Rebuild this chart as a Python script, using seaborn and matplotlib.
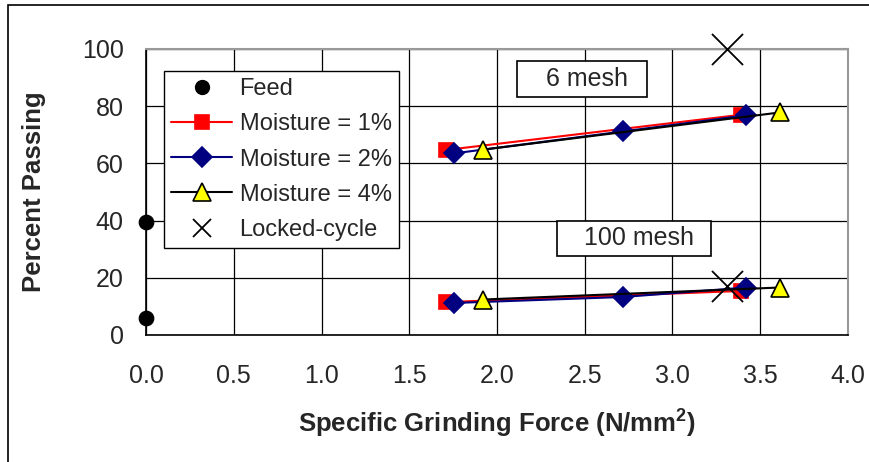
import matplotlib
matplotlib.use("Agg")
import matplotlib.pyplot as plt
import seaborn as sns
import pandas as pd
from matplotlib.lines import Line2D
from matplotlib.patches import Rectangle

sns.set_theme(style="white")
plt.rcParams['font.family'] = ['Liberation Sans', 'DejaVu Sans']
plt.rcParams['mathtext.fontset'] = 'custom'
plt.rcParams['mathtext.rm'] = 'Liberation Sans'
plt.rcParams['mathtext.bf'] = 'Liberation Sans:bold'

# Data
feed_x = [0.0, 0.0]
feed_y = [39.5, 6.0]

force_m1 = [1.71, 3.39]
m1_6mesh = [64.7, 77.0]
m1_100mesh = [11.5, 15.4]

force_m2 = [1.755, 2.72, 3.42]
m2_6mesh = [63.5, 71.2, 76.8]
m2_100mesh = [11.2, 13.3, 16.6]

force_m4 = [1.92, 3.61]
m4_6mesh = [64.8, 77.8]
m4_100mesh = [12.4, 16.6]

locked_x = [3.31, 3.31]
locked_y = [100.0, 17.1]

x_ticks = [0.0, 0.5, 1.0, 1.5, 2.0, 2.5, 3.0, 3.5, 4.0]
y_ticks = [0, 20, 40, 60, 80, 100]

fig = plt.figure(figsize=(8.7, 4.62), dpi=100)
ax = fig.add_axes([146/870, 127/462, 702/870, 286/462])

# figure border
fig.patches.append(Rectangle((8/870, -0.1), 1.2, (457+46)/462, transform=fig.transFigure,
                             fill=False, edgecolor='black', linewidth=1.2))

ax.grid(True, color='black', linewidth=0.9)
ax.set_axisbelow(True)

series = [
    (force_m1, m1_6mesh, m1_100mesh, 'red', 's', 'red', 'red', 9.5, 'Moisture = 1%'),
    (force_m2, m2_6mesh, m2_100mesh, '#000080', 'D', '#000080', '#000080', 10, 'Moisture = 2%'),
    (force_m4, m4_6mesh, m4_100mesh, 'black', '^', 'yellow', 'black', 13, 'Moisture = 4%'),
]
handles = []
h = Line2D([], [], linestyle='none', marker='o', color='black', markersize=10)
handles.append((h, 'Feed'))
for i, (fx, y6, y100, lc, mk, mfc, mec, ms, lab) in enumerate(series):
    for yy in (y6, y100):
        df = pd.DataFrame({'x': fx, 'y': yy})
        sns.lineplot(data=df, x='x', y='y', ax=ax, color=lc, linewidth=1.5,
                     marker=mk, markersize=ms, markerfacecolor=mfc,
                     markeredgecolor=mec, markeredgewidth=1.2, sort=False,
                     zorder=3 + i, clip_on=False)
    handles.append((Line2D([], [], color=lc, linewidth=1.5, marker=mk, markersize=ms,
                           markerfacecolor=mfc, markeredgecolor=mec,
                           markeredgewidth=1.2), lab))

sns.scatterplot(x=feed_x, y=feed_y, ax=ax, color='black', marker='o', s=110,
                edgecolor='black', zorder=8, clip_on=False)
sns.scatterplot(x=locked_x, y=locked_y, ax=ax, color='black', marker='x', s=500,
                linewidth=1.3, zorder=8, clip_on=False)
handles.append((Line2D([], [], linestyle='none', marker='x', color='black',
                       markersize=13, markeredgewidth=1.3), 'Locked-cycle'))

ax.set_xlim(0, 4.0)
ax.set_ylim(0, 100)
ax.set_xticks(x_ticks)
ax.set_xticklabels([f'{t:.1f}' for t in x_ticks])
ax.set_yticks(y_ticks)
ax.tick_params(axis='both', labelsize=18, direction='out', length=8, width=1,
               color='black', pad=8)
ax.tick_params(axis='x', pad=13)

for s in ['left', 'bottom']:
    ax.spines[s].set_color('black')
    ax.spines[s].set_linewidth(1.2)
for s in ['top', 'right']:
    ax.spines[s].set_color('#999999')
    ax.spines[s].set_linewidth(1.5)

ax.set_xlabel('Specific Grinding Force (N/mm$^\\mathbf{2}$)', fontsize=18.5,
              fontweight='bold', labelpad=13)
ax.set_ylabel('Percent Passing', fontsize=18.5, fontweight='bold', labelpad=26)

leg = ax.legend([h for h, _ in handles], [l for _, l in handles], loc='upper left',
                bbox_to_anchor=(18/702, 264/286), fontsize=17, frameon=True,
                fancybox=False, edgecolor='black', framealpha=1, handlelength=2.6,
                borderpad=0.3, labelspacing=0.56, handletextpad=0.3, borderaxespad=0)
leg.get_frame().set_linewidth(1.0)
leg.set_zorder(10)

# annotation boxes
ax.add_patch(Rectangle((2.114, 83.2), 0.741, 12.6, facecolor='white', edgecolor='black',
                       linewidth=1.2, zorder=11))
ax.text(2.51, 89.5, '6 mesh', fontsize=18, ha='center', va='center', zorder=12)
ax.add_patch(Rectangle((2.342, 27.6), 0.877, 12.3, facecolor='white', edgecolor='black',
                       linewidth=1.2, zorder=11))
ax.text(2.81, 34.0, '100 mesh', fontsize=18, ha='center', va='center', zorder=12)

fig.savefig('out.png', dpi=100)
